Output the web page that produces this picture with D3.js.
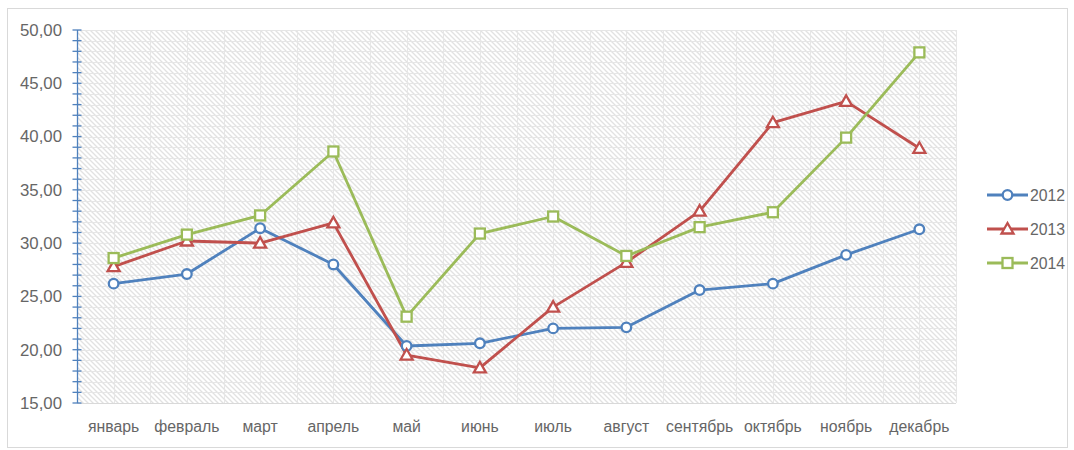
<!DOCTYPE html>
<html><head><meta charset="utf-8">
<script src="https://cdn.jsdelivr.net/npm/d3@7"></script>
<style>body{margin:0;background:#fff}svg{display:block}</style>
</head><body>
<script>
const months = ["январь","февраль","март","апрель","май","июнь","июль","август","сентябрь","октябрь","ноябрь","декабрь"];
const s2012 = [26.2,27.1,31.4,28.0,20.35,20.6,22.0,22.1,25.6,26.2,28.9,31.3];
const s2013 = [27.8,30.2,30.0,31.9,19.5,18.3,24.0,28.2,33.0,41.3,43.3,38.9];
const s2014 = [28.6,30.8,32.6,38.6,23.1,30.9,32.5,28.8,31.5,32.9,39.9,47.9];
const yTicks = [15,20,25,30,35,40,45,50];
const seriesNames = ["2012","2013","2014"];
const colors = ["#4F81BD","#C0504D","#9BBB59"];
const markers = ["circle","triangle","square"];
const data = [s2012,s2013,s2014];

const W=1074,H=450;
const m={l:77,r:956,t:30,b:403};
const svg=d3.select("body").append("svg").attr("width",W).attr("height",H);
const defs=svg.append("defs");
const pat=defs.append("pattern").attr("id","hatch").attr("patternUnits","userSpaceOnUse").attr("width",5).attr("height",5);
pat.append("rect").attr("width",5).attr("height",5).attr("fill","#fff");
pat.append("path").attr("d","M0,0L5,5M-1,4L1,6M4,-1L6,1").attr("stroke","#e2e2e2").attr("stroke-width",1.3);

svg.append("rect").attr("x",7.5).attr("y",8.5).attr("width",1060).attr("height",439).attr("fill","#fff").attr("stroke","#d9d9d9");

const x=d3.scaleBand().domain(months).range([m.l,m.r]);
const y=d3.scaleLinear().domain([15,50]).range([m.b,m.t]);
const font="'Liberation Sans', Arial, sans-serif";

svg.append("rect").attr("x",m.l).attr("y",m.t).attr("width",m.r-m.l).attr("height",m.b-m.t).attr("fill","url(#hatch)");

// gridlines
const g=svg.append("g");
g.selectAll("line.h").data(d3.range(16,51,1)).enter().append("line")
 .attr("x1",m.l).attr("x2",m.r).attr("y1",d=>Math.round(y(d))+0.5).attr("y2",d=>Math.round(y(d))+0.5)
 .attr("stroke","#e6e6e6").attr("stroke-width",1);
const vx=[];
months.forEach((d,i)=>{vx.push(x(d)+x.bandwidth()/2);vx.push(x(d)+x.bandwidth());});
g.selectAll("line.v").data(vx).enter().append("line")
 .attr("x1",d=>Math.round(d)+0.5).attr("x2",d=>Math.round(d)+0.5).attr("y1",m.t).attr("y2",m.b)
 .attr("stroke","#e6e6e6").attr("stroke-width",1);

// x axis
svg.append("line").attr("x1",m.l).attr("x2",m.r).attr("y1",m.b+0.5).attr("y2",m.b+0.5).attr("stroke","#d9d9d9");
const xa=svg.append("g").attr("transform",`translate(0,${m.b})`).call(d3.axisBottom(x).tickSize(0).tickPadding(18));
xa.select(".domain").remove();
xa.selectAll("text").attr("font-family",font).attr("font-size",15.8).attr("fill","#666");

// y axis
const ya=svg.append("g").attr("transform",`translate(${m.l},0)`)
 .call(d3.axisLeft(y).tickValues(yTicks).tickSize(0).tickPadding(15).tickFormat(d=>d3.format(".2f")(d).replace(".",",")));
ya.select(".domain").remove();
ya.selectAll("text").attr("font-family",font).attr("font-size",16.8).attr("fill","#666");
svg.append("line").attr("x1",m.l+0.5).attr("x2",m.l+0.5).attr("y1",m.t).attr("y2",m.b).attr("stroke","#4F81BD").attr("stroke-width",1.3);
svg.selectAll("line.yt").data(d3.range(15,51,1)).enter().append("line")
 .attr("x1",m.l-4.5).attr("x2",m.l+4.5).attr("y1",d=>y(d)).attr("y2",d=>y(d)).attr("stroke","#4F81BD").attr("stroke-width",1.3);

function drawMarker(sel,type,color,cx,cy){
  if(type==="circle") sel.append("circle").attr("cx",cx).attr("cy",cy).attr("r",4.8).attr("fill","#fff").attr("stroke",color).attr("stroke-width",2.3);
  else if(type==="square") sel.append("rect").attr("x",cx-5).attr("y",cy-5).attr("width",10).attr("height",10).attr("fill","#fff").attr("stroke",color).attr("stroke-width",2.3);
  else sel.append("path").attr("d",`M${cx},${cy-6}L${cx+6},${cy+4.5}L${cx-6},${cy+4.5}Z`).attr("fill","#fff").attr("stroke",color).attr("stroke-width",2.3);
}
const line=d3.line().x((d,i)=>x(months[i])+x.bandwidth()/2).y(d=>y(d));
data.forEach((s,k)=>{
  svg.append("path").datum(s).attr("d",line).attr("fill","none").attr("stroke",colors[k]).attr("stroke-width",2.8).attr("stroke-linejoin","round");
});
data.forEach((s,k)=>{
  const gm=svg.append("g");
  s.forEach((v,i)=>drawMarker(gm,markers[k],colors[k],x(months[i])+x.bandwidth()/2,y(v)));
});

// legend
const lg=svg.append("g");
seriesNames.forEach((n,k)=>{
  const ly=195+k*34;
  lg.append("line").attr("x1",987).attr("x2",1028).attr("y1",ly).attr("y2",ly).attr("stroke",colors[k]).attr("stroke-width",2.8);
  drawMarker(lg,markers[k],colors[k],1007.5,ly);
  lg.append("text").attr("x",1030).attr("y",ly).attr("dy","0.35em").attr("font-family",font).attr("font-size",15.8).attr("fill","#666").text(n);
});
</script>
</body></html>
